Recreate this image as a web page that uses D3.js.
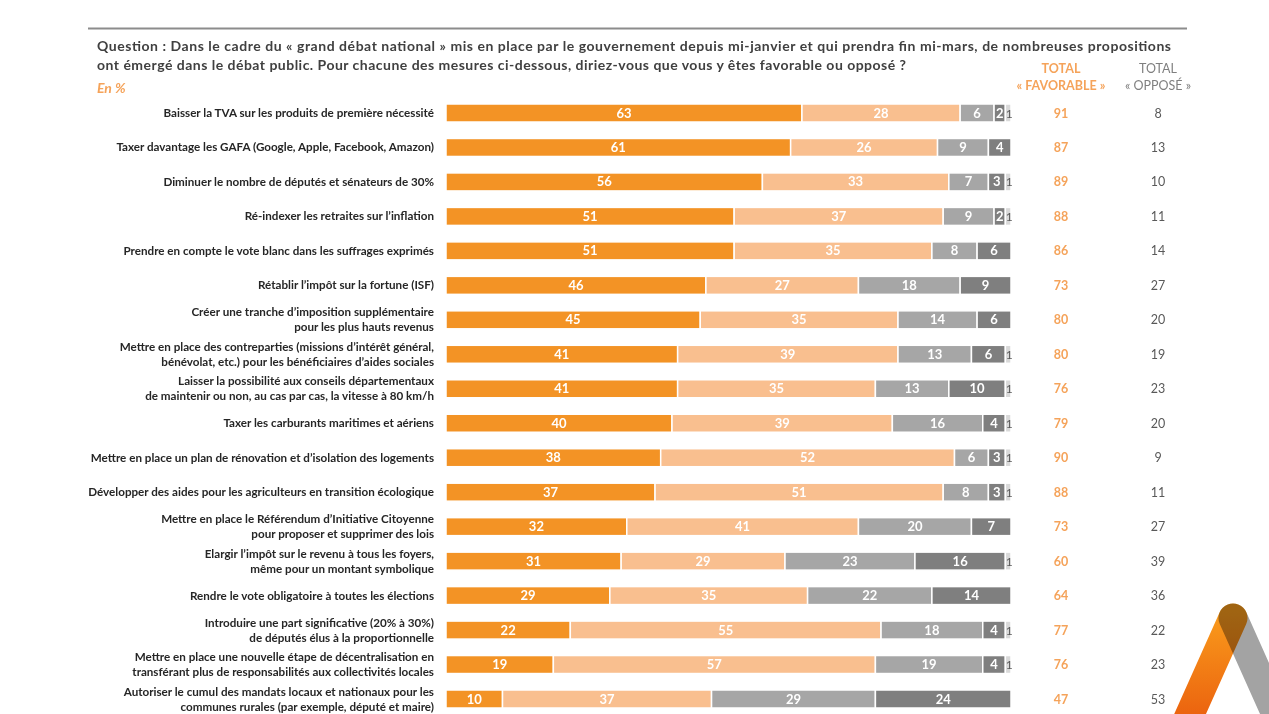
<!DOCTYPE html>
<html>
<head>
<meta charset="utf-8">
<script src="https://cdn.jsdelivr.net/npm/d3@7"></script>
<style>
  html, body { margin: 0; padding: 0; background: #fff; }
  svg { display: block; font-family: Lato, "Open Sans", sans-serif; }
</style>
</head>
<body>
<svg id="chart" width="1269" height="714"></svg>
<script>
// Items (line breaks as in the original)
const items = [
  "Baisser la TVA sur les produits de première nécessité",
  "Taxer davantage les GAFA (Google, Apple, Facebook, Amazon)",
  "Diminuer le nombre de députés et sénateurs de 30%",
  "Ré-indexer les retraites sur l’inflation",
  "Prendre en compte le vote blanc dans les suffrages exprimés",
  "Rétablir l’impôt sur la fortune (ISF)",
  "Créer une tranche d’imposition supplémentaire|pour les plus hauts revenus",
  "Mettre en place des contreparties (missions d’intérêt général,|bénévolat, etc.) pour les bénéficiaires d’aides sociales",
  "Laisser la possibilité aux conseils départementaux|de maintenir ou non, au cas par cas, la vitesse à 80 km/h",
  "Taxer les carburants maritimes et aériens",
  "Mettre en place un plan de rénovation et d’isolation des logements",
  "Développer des aides pour les agriculteurs en transition écologique",
  "Mettre en place le Référendum d’Initiative Citoyenne|pour proposer et supprimer des lois",
  "Elargir l’impôt sur le revenu à tous les foyers,|même pour un montant symbolique",
  "Rendre le vote obligatoire à toutes les élections",
  "Introduire une part significative (20% à 30%)|de députés élus à la proportionnelle",
  "Mettre en place une nouvelle étape de décentralisation en|transférant plus de responsabilités aux collectivités locales",
  "Autoriser le cumul des mandats locaux et nationaux pour les|communes rurales (par exemple, député et maire)"
];

const tresFavorable   = [63, 61, 56, 51, 51, 46, 45, 41, 41, 40, 38, 37, 32, 31, 29, 22, 19, 10];
const plutotFavorable = [28, 26, 33, 37, 35, 27, 35, 39, 35, 39, 52, 51, 41, 29, 35, 55, 57, 37];
const plutotOppose    = [ 6,  9,  7,  9,  8, 18, 14, 13, 13, 16,  6,  8, 20, 23, 22, 18, 19, 29];
const tresOppose      = [ 2,  4,  3,  2,  6,  9,  6,  6, 10,  4,  3,  3,  7, 16, 14,  4,  4, 24];
const nsp             = [ 1,  0,  1,  1,  0,  0,  0,  1,  1,  1,  1,  1,  0,  1,  0,  1,  1,  0];

const totalFavorable = [91, 87, 89, 88, 86, 73, 80, 80, 76, 79, 90, 88, 73, 60, 64, 77, 76, 47];
const totalOppose    = [ 8, 13, 10, 11, 14, 27, 20, 19, 23, 20,  9, 11, 27, 39, 36, 22, 23, 53];

const seriesKeys = ["tresFavorable", "plutotFavorable", "plutotOppose", "tresOppose", "nsp"];
const colors = ["#f39325", "#f9bf8f", "#a6a6a6", "#7f7f7f", "#d9d9d9"];

const rows = items.map((label, i) => ({
  idx: i, label,
  tresFavorable: tresFavorable[i], plutotFavorable: plutotFavorable[i],
  plutotOppose: plutotOppose[i], tresOppose: tresOppose[i], nsp: nsp[i]
}));

const svg = d3.select("#chart");

// top rule
svg.append("line")
  .attr("x1", 88).attr("x2", 1187).attr("y1", 28.5).attr("y2", 28.5)
  .attr("stroke", "#8c8c8c").attr("stroke-width", 2);

// question
const q = svg.append("text").attr("font-weight", 700).attr("font-size", 14).attr("fill", "#404040");
q.append("tspan").attr("x", 97).attr("y", 51)
  .attr("textLength", 1074).attr("lengthAdjust", "spacing")
  .text("Question : Dans le cadre du « grand débat national » mis en place par le gouvernement depuis mi-janvier et qui prendra fin mi-mars, de nombreuses propositions");
q.append("tspan").attr("x", 97).attr("y", 70)
  .attr("textLength", 809).attr("lengthAdjust", "spacing")
  .text("ont émergé dans le débat public. Pour chacune des mesures ci-dessous, diriez-vous que vous y êtes favorable ou opposé ?");

svg.append("text").attr("x", 97).attr("y", 93)
  .attr("font-size", 14).attr("font-weight", 700).attr("font-style", "italic")
  .attr("fill", "#f5a35a").text("En %");

// column headers
const favX = 1061, oppX = 1158;
[["TOTAL", 73], ["« FAVORABLE »", 90]].forEach(([t, y]) =>
  svg.append("text").attr("x", favX).attr("y", y).attr("text-anchor", "middle")
    .attr("font-size", 12.5).attr("font-weight", 700).attr("fill", "#f5a35a").text(t));
[["TOTAL", 73], ["« OPPOSÉ »", 90]].forEach(([t, y]) =>
  svg.append("text").attr("x", oppX).attr("y", y).attr("text-anchor", "middle")
    .attr("font-size", 12.5).attr("fill", "#7f7f7f").text(t));

// scales
const x = d3.scaleLinear().domain([0, 100]).range([446, 1011]);
const y = d3.scalePoint().domain(d3.range(items.length)).range([113, 699]);
const barH = 18;

const stacked = d3.stack().keys(seriesKeys)(rows);

const layers = svg.append("g").selectAll("g.layer")
  .data(stacked).join("g")
  .attr("class", "layer")
  .attr("fill", (d, i) => colors[i]);

layers.selectAll("rect")
  .data(d => d.filter(s => s[1] > s[0]))
  .join("rect")
  .attr("x", d => x(d[0]))
  .attr("width", d => x(d[1]) - x(d[0]))
  .attr("y", d => y(d.data.idx) - barH / 2)
  .attr("height", barH)
  .attr("stroke", "#fff")
  .attr("stroke-width", 1.5);

// segment values
layers.each(function(layer, li) {
  d3.select(this).selectAll("text")
    .data(layer.filter(s => s[1] > s[0]))
    .join("text")
    .attr("x", d => (x(d[0]) + x(d[1])) / 2 + (li === 4 ? 1 : 0))
    .attr("y", d => y(d.data.idx) + 4.5)
    .attr("text-anchor", "middle")
    .attr("font-size", li === 4 ? 12 : 13)
    .attr("font-weight", li === 4 ? 400 : 700)
    .attr("fill", li === 4 ? "#595959" : "#fff")
    .text(d => d[1] - d[0]);
});

// item labels
const lab = svg.append("g").selectAll("text")
  .data(rows).join("text")
  .attr("text-anchor", "end")
  .attr("font-size", 11.65)
  .attr("font-weight", 700)
  .attr("fill", "#262626");
lab.each(function(d) {
  const lines = d.label.split("|");
  const t = d3.select(this);
  lines.forEach((l, k) => {
    t.append("tspan").attr("x", 434)
      .attr("y", y(d.idx) + 4 + (k - (lines.length - 1) / 2) * 15)
      .text(l);
  });
});

// totals
svg.append("g").selectAll("text")
  .data(totalFavorable).join("text")
  .attr("x", favX).attr("y", (d, i) => y(i) + 4.5)
  .attr("text-anchor", "middle").attr("font-size", 12.5).attr("font-weight", 700)
  .attr("fill", "#f5a35a").text(d => d);
svg.append("g").selectAll("text")
  .data(totalOppose).join("text")
  .attr("x", oppX).attr("y", (d, i) => y(i) + 4.5)
  .attr("text-anchor", "middle").attr("font-size", 12.5)
  .attr("fill", "#595959").text(d => d);

// logo (bottom right)
const defs = svg.append("defs");
const grad = defs.append("linearGradient").attr("id", "og")
  .attr("gradientUnits", "userSpaceOnUse")
  .attr("x1", 0).attr("y1", 740).attr("x2", 0).attr("y2", 610);
grad.append("stop").attr("offset", "0").attr("stop-color", "#e8560c");
grad.append("stop").attr("offset", "1").attr("stop-color", "#fa9d1c");

const logo = svg.append("g");
logo.append("line")
  .attr("x1", 1233).attr("y1", 618).attr("x2", 1292).attr("y2", 750)
  .attr("stroke", "#a3a3a3").attr("stroke-width", 29).attr("stroke-linecap", "round");
logo.append("line")
  .attr("x1", 1233).attr("y1", 618).attr("x2", 1174).attr("y2", 750)
  .attr("stroke", "url(#og)").attr("stroke-width", 29).attr("stroke-linecap", "round")
  .style("mix-blend-mode", "multiply");
</script>
</body>
</html>
